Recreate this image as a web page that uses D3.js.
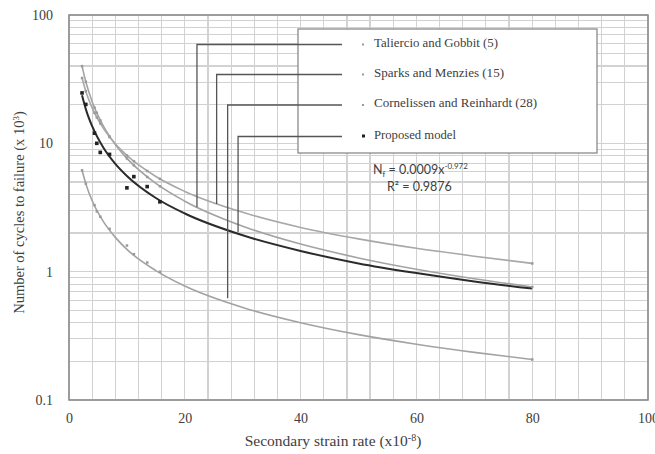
<!DOCTYPE html>
<html><head><meta charset="utf-8">
<script src="https://cdn.jsdelivr.net/npm/d3@7"></script>
<style>body{margin:0;background:#fff}svg{display:block}</style>
</head><body>
<svg id="c" width="655" height="454"></svg>
<script>
// ---------------- data ----------------
const seriesNames = ["Taliercio and Gobbit (5)", "Sparks and Menzies (15)", "Cornelissen and Reinhardt (28)", "Proposed model"];
const curveX = [2.25, 3, 4, 6, 8, 10, 15, 20, 30, 40, 50, 60, 70, 80];
const taliercioCurve   = [40.0, 29.1, 21.1, 13.5, 9.79, 7.63, 4.87, 3.54, 2.26, 1.64, 1.28, 1.045, 0.881, 0.760];
const sparksCurve      = [32.3, 24.7, 18.9, 12.96, 9.91, 8.05, 5.52, 4.22, 2.90, 2.21, 1.80, 1.52, 1.32, 1.16];
const cornelissenCurve = [6.17, 4.70, 3.57, 2.43, 1.85, 1.49, 1.02, 0.773, 0.526, 0.400, 0.323, 0.272, 0.235, 0.207];
const proposedCurve    = [23.7, 17.9, 13.6, 9.15, 6.92, 5.57, 3.75, 2.84, 1.92, 1.45, 1.16, 0.976, 0.840, 0.738];

const markerX = [2.25, 2.9, 4.4, 4.8, 5.4, 7.0, 10.0, 11.2, 13.5, 15.7, 80];
const taliercioPts   = [40.0, 30.2, 19.0, 17.3, 15.1, 11.3, 7.63, 6.74, 5.47, 4.63, 0.76];
const sparksPts      = [32.3, 25.5, 17.3, 15.9, 14.3, 11.2, 8.05, 7.25, 6.09, 5.29, 1.16];
const cornelissenPts = [6.17, 4.85, 3.30, 2.95, 2.68, 2.16, 1.60, 1.37, 1.18, 1.00, 0.207];
const proposedX   = [2.25, 2.9, 4.4, 4.8, 5.4, 7.0, 10.0, 11.2, 13.5, 15.7];
const proposedPts = [24.7, 20.1, 12.0, 10.0, 8.5, 8.2, 4.5, 5.5, 4.6, 3.5];

// where each legend leader line ends (x, y in data units)
const leaderX = [22.1, 25.5, 27.4, 29.2];
const leaderY = [3.18, 3.37, 0.62, 2.04];

const xTicks = [0, 20, 40, 60, 80, 100];
const xGrid = d3.range(0, 101, 4);
const yTicks = [0.1, 1, 10, 100];
const yTickLabels = ["0.1", "1", "10", "100"];

// ---------------- chart ----------------
const svg = d3.select("#c");
const L = 69, R = 648, T = 15, B = 400;
const x = d3.scaleLinear().domain([0, 100]).range([L, R]);
const y = d3.scaleLog().domain([0.1, 100]).range([B, T]);
const serif = "'Liberation Serif','Times New Roman',serif";

// grid
const grid = svg.append("g").attr("stroke", "#d2d2d2").attr("stroke-width", 1.2).attr("shape-rendering", "crispEdges");
grid.selectAll(".v").data(xGrid).join("line")
  .attr("x1", d => x(d)).attr("x2", d => x(d)).attr("y1", T).attr("y2", B);
grid.selectAll(".h").data(y.ticks()).join("line")
  .attr("x1", L).attr("x2", R).attr("y1", d => y(d)).attr("y2", d => y(d));

// frame
svg.append("rect").attr("x", L).attr("y", T).attr("width", R - L).attr("height", B - T)
  .attr("fill", "none").attr("stroke", "#8a8a8a").attr("stroke-width", 1.5);

// axes labels
const yAxis = d3.axisLeft(y).tickValues(yTicks).tickFormat((d, i) => yTickLabels[i]).tickSize(0).tickPadding(16);
const ga = svg.append("g").attr("transform", `translate(${L},0)`).call(yAxis);
ga.select(".domain").remove();
ga.selectAll("text").attr("font-family", serif).attr("font-size", 14).attr("fill", "#404040");

const xAxis = d3.axisBottom(x).tickValues(xTicks).tickSize(0).tickPadding(13);
const gx = svg.append("g").attr("transform", `translate(0,${B})`).call(xAxis);
gx.select(".domain").remove();
gx.selectAll("text").attr("font-family", serif).attr("font-size", 14).attr("fill", "#404040");

// axis titles
const xt = svg.append("text").attr("x", 333).attr("y", 446).attr("text-anchor", "middle")
  .attr("font-family", serif).attr("font-size", 15.5).attr("fill", "#404040");
xt.append("tspan").text("Secondary  strain rate (x10");
xt.append("tspan").attr("font-size", 10).attr("dy", -5).text("-8");
xt.append("tspan").attr("dy", 5).text(")");

const yt = svg.append("text").attr("transform", `translate(24,${(T + B) / 2 + 5}) rotate(-90)`).attr("text-anchor", "middle")
  .attr("font-family", serif).attr("font-size", 14.5).attr("fill", "#404040");
yt.append("tspan").text("Number of cycles to failure (x 10");
yt.append("tspan").attr("font-size", 9).attr("dy", -5).text("3");
yt.append("tspan").attr("dy", 5).text(")");

// curves
const line = d3.line().x(d => x(d[0])).y(d => y(d[1])).curve(d3.curveMonotoneX);
const curves = [
  {v: taliercioCurve, c: "#a3a3a3", w: 1.6},
  {v: sparksCurve, c: "#a8a8a8", w: 1.6},
  {v: cornelissenCurve, c: "#a3a3a3", w: 1.6},
  {v: proposedCurve, c: "#2b2b2b", w: 2}
];
curves.forEach(s => {
  svg.append("path").datum(curveX.map((xv, i) => [xv, s.v[i]]))
    .attr("d", line).attr("fill", "none").attr("stroke", s.c).attr("stroke-width", s.w);
});

// markers
[taliercioPts, sparksPts, cornelissenPts].forEach(pts => {
  svg.append("g").selectAll("rect").data(markerX.map((xv, i) => [xv, pts[i]])).join("rect")
    .attr("x", d => x(d[0]) - 1.2).attr("y", d => y(d[1]) - 1.2).attr("width", 2.5).attr("height", 2.5).attr("fill", "#9a9a9a");
});
svg.append("g").selectAll("rect").data(proposedX.map((xv, i) => [xv, proposedPts[i]])).join("rect")
  .attr("x", d => x(d[0]) - 1.8).attr("y", d => y(d[1]) - 1.8).attr("width", 3.6).attr("height", 3.6).attr("fill", "#222");

// legend
svg.append("rect").attr("x", 298).attr("y", 29).attr("width", 299).attr("height", 124)
  .attr("fill", "#fff").attr("stroke", "#8a8a8a").attr("stroke-width", 1.3);
const legY = [44.5, 74.5, 105, 136.5];
const legW = [124, 130, 163, 82];
const leaders = svg.append("g").attr("stroke", "#555").attr("stroke-width", 1.3).attr("fill", "none");
seriesNames.forEach((name, i) => {
  leaders.append("path")
    .attr("d", `M342,${legY[i]} H${x(leaderX[i])} V${y(leaderY[i])}`);
  svg.append("rect").attr("x", 362).attr("y", legY[i] - 1 + (i === 3 ? -1 : 0))
    .attr("width", i === 3 ? 3 : 2).attr("height", i === 3 ? 3 : 2).attr("fill", i === 3 ? "#222" : "#9a9a9a");
  svg.append("text").attr("x", 374).attr("y", legY[i] + 2).attr("font-family", serif).attr("font-size", 13.5)
    .attr("fill", "#404040").attr("textLength", legW[i]).attr("lengthAdjust", "spacingAndGlyphs").text(name);
});

// equation
const eq = svg.append("text").attr("x", 373).attr("y", 174).attr("font-family", "Lato, 'Open Sans', sans-serif")
  .attr("font-size", 12.5).attr("fill", "#404040");
eq.append("tspan").text("N");
eq.append("tspan").attr("font-size", 8).attr("dy", 3).text("f");
eq.append("tspan").attr("dy", -3).text(" = 0.0009x");
eq.append("tspan").attr("font-size", 8).attr("dy", -5).text("-0.972");
svg.append("text").attr("x", 387).attr("y", 191).attr("font-family", "Lato, 'Open Sans', sans-serif")
  .attr("font-size", 12.5).attr("fill", "#404040").text("R² = 0.9876");
</script>
</body></html>
